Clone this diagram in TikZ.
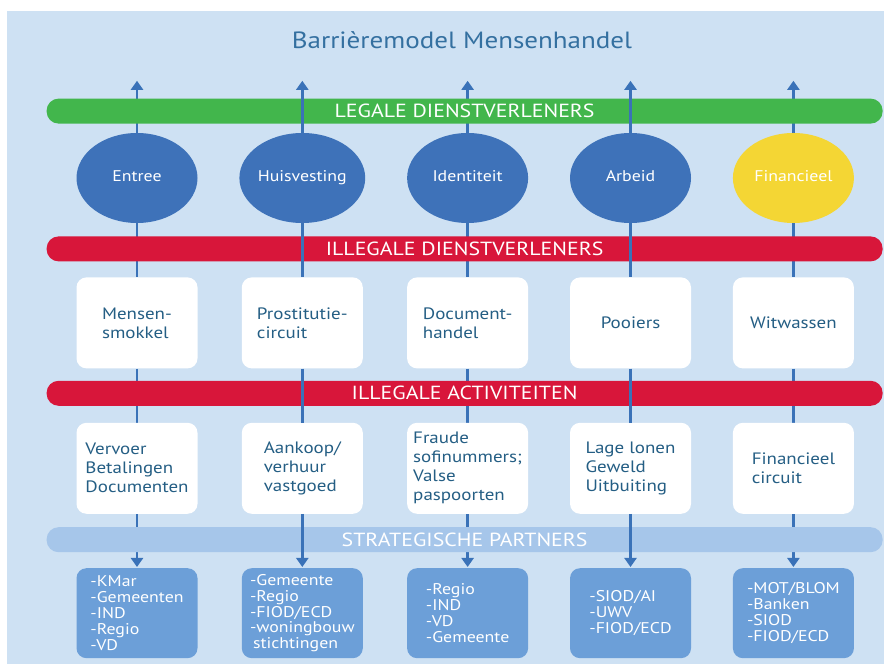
\documentclass[tikz,border=0pt]{standalone}
\usepackage{fontspec}
\setmainfont{PT Sans}[FakeStretch=1.15]
\usepackage{xcolor}
\usepackage{tikz}
\usetikzlibrary{shapes.geometric,arrows.meta,positioning,backgrounds}

\definecolor{skyback}{RGB}{206,225,243}
\definecolor{titleblue}{RGB}{52,112,160}
\definecolor{themeblue}{RGB}{62,114,185}
\definecolor{moneyyellow}{RGB}{244,214,52}
\definecolor{legalgreen}{RGB}{66,182,76}
\definecolor{illegalred}{RGB}{216,22,58}
\definecolor{partnerbar}{RGB}{166,198,234}
\definecolor{partnerblue}{RGB}{108,159,216}
\definecolor{linkblue}{RGB}{58,114,184}
\definecolor{cardtext}{RGB}{36,94,132}

\begin{document}
\begin{tikzpicture}[
    x=1pt, y=1pt,
    node distance=54pt and 41.5pt,
    theme/.style={ellipse, fill=themeblue, text=white, minimum width=121pt, minimum height=90pt, inner sep=0pt, text height=11pt, text depth=3pt, font=\fontsize{15.5}{17}\selectfont},
    card/.style={rectangle, rounded corners=10pt, fill=white, text=cardtext, minimum width=121pt, minimum height=91pt, inner sep=0pt, align=left, font=\fontsize{16.5}{19}\selectfont},
    partner/.style={card, fill=partnerblue, text=white, minimum height=90pt, font=\fontsize{15.5}{15.8}\selectfont},
    bar/.style={rectangle, rounded corners=12pt, minimum width=836pt, minimum height=25pt, inner sep=0pt, text=white, font=\fontsize{19}{20}\selectfont},
    link/.style={draw=linkblue, line width=2.8pt},
    arrow/.style={link, -{Triangle[length=9pt,width=12pt]}, shorten >=1pt}
]
\useasboundingbox (0,0) rectangle (884,664);
\begin{pgfonlayer}{background}
\fill[skyback] (7,0) rectangle (884,653);
\end{pgfonlayer}

\node[text=titleblue, font=\fontsize{23.5}{26}\selectfont] (title) at (462,624) {Barrièremodel Mensenhandel};

% barrieres
\node[theme] (c1) at (137,486) {Entree};
\node[theme, right=of c1] (c2) {Huisvesting};
\node[theme, right=of c2] (c3) {Identiteit};
\node[theme, right=of c3] (c4) {Arbeid};
\node[theme, fill=moneyyellow, right=of c4] (c5) {Financieel};

\node[card, below=of c1] (s1) {Mensen-\\smokkel};
\node[card, below=of c2] (s2) {Prostitutie-\\circuit};
\node[card, below=of c3] (s3) {Document-\\handel};
\node[card, below=of c4] (s4) {Pooiers};
\node[card, below=of c5] (s5) {Witwassen};

\node[card, below=of s1] (a1) {Vervoer\\Betalingen\\Documenten};
\node[card, below=of s2] (a2) {Aankoop/\\verhuur\\vastgoed};
\node[card, below=of s3] (a3) {Fraude\\sofinummers;\\Valse\\paspoorten};
\node[card, below=of s4] (a4) {Lage lonen\\Geweld\\Uitbuiting};
\node[card, below=of s5] (a5) {Financieel\\circuit};

\node[partner, below=of a1] (p1) {-KMar\\-Gemeenten\\-IND\\-Regio\\-VD};
\node[partner, below=of a2] (p2) {-Gemeente\\-Regio\\-FIOD/ECD\\-woningbouw\\\hspace*{3pt}stichtingen};
\node[partner, below=of a3] (p3) {-Regio\\-IND\\-VD\\-Gemeente};
\node[partner, below=of a4] (p4) {-SIOD/AI\\-UWV\\-FIOD/ECD};
\node[partner, below=of a5] (p5) {-MOT/BLOM\\-Banken\\-SIOD\\-FIOD/ECD};

% balken
\node[bar, fill=legalgreen, above=9pt of c3, xshift=-3pt] (legal) {LEGALE DIENSTVERLENERS};
\node[bar, fill=illegalred, below=13pt of c3, xshift=-3pt] (illserv) {ILLEGALE DIENSTVERLENERS};
\node[bar, fill=illegalred, below=12pt of s3, xshift=-3pt] (illact) {ILLEGALE ACTIVITEITEN};
\node[bar, fill=partnerbar, below=13pt of a3, xshift=-3pt] (strat) {STRATEGISCHE PARTNERS};

\coordinate[above=53pt of c1] (t1);
\coordinate[above=53pt of c2] (t2);
\coordinate[above=53pt of c3] (t3);
\coordinate[above=53pt of c4] (t4);
\coordinate[above=53pt of c5] (t5);

\begin{scope}[on background layer]
\draw[arrow] (c1) -- (t1);
\draw[link] (c1) -- (s1) (s1) -- (a1);
\draw[arrow] (a1) -- (p1);
\draw[arrow] (c3) -- (t3);
\draw[link] (c3) -- (s3) (s3) -- (a3);
\draw[arrow] (a3) -- (p3);
\draw[arrow] (c5) -- (t5);
\draw[link] (c5) -- (s5) (s5) -- (a5);
\draw[arrow] (a5) -- (p5);
\end{scope}

\draw[arrow] (c2) -- (t2);
\draw[link] (c2) -- (s2) (s2) -- (a2);
\draw[arrow] (a2) -- (p2);
\draw[arrow] (c4) -- (t4);
\draw[link] (c4) -- (s4) (s4) -- (a4);
\draw[arrow] (a4) -- (p4);
\end{tikzpicture}
\end{document}
